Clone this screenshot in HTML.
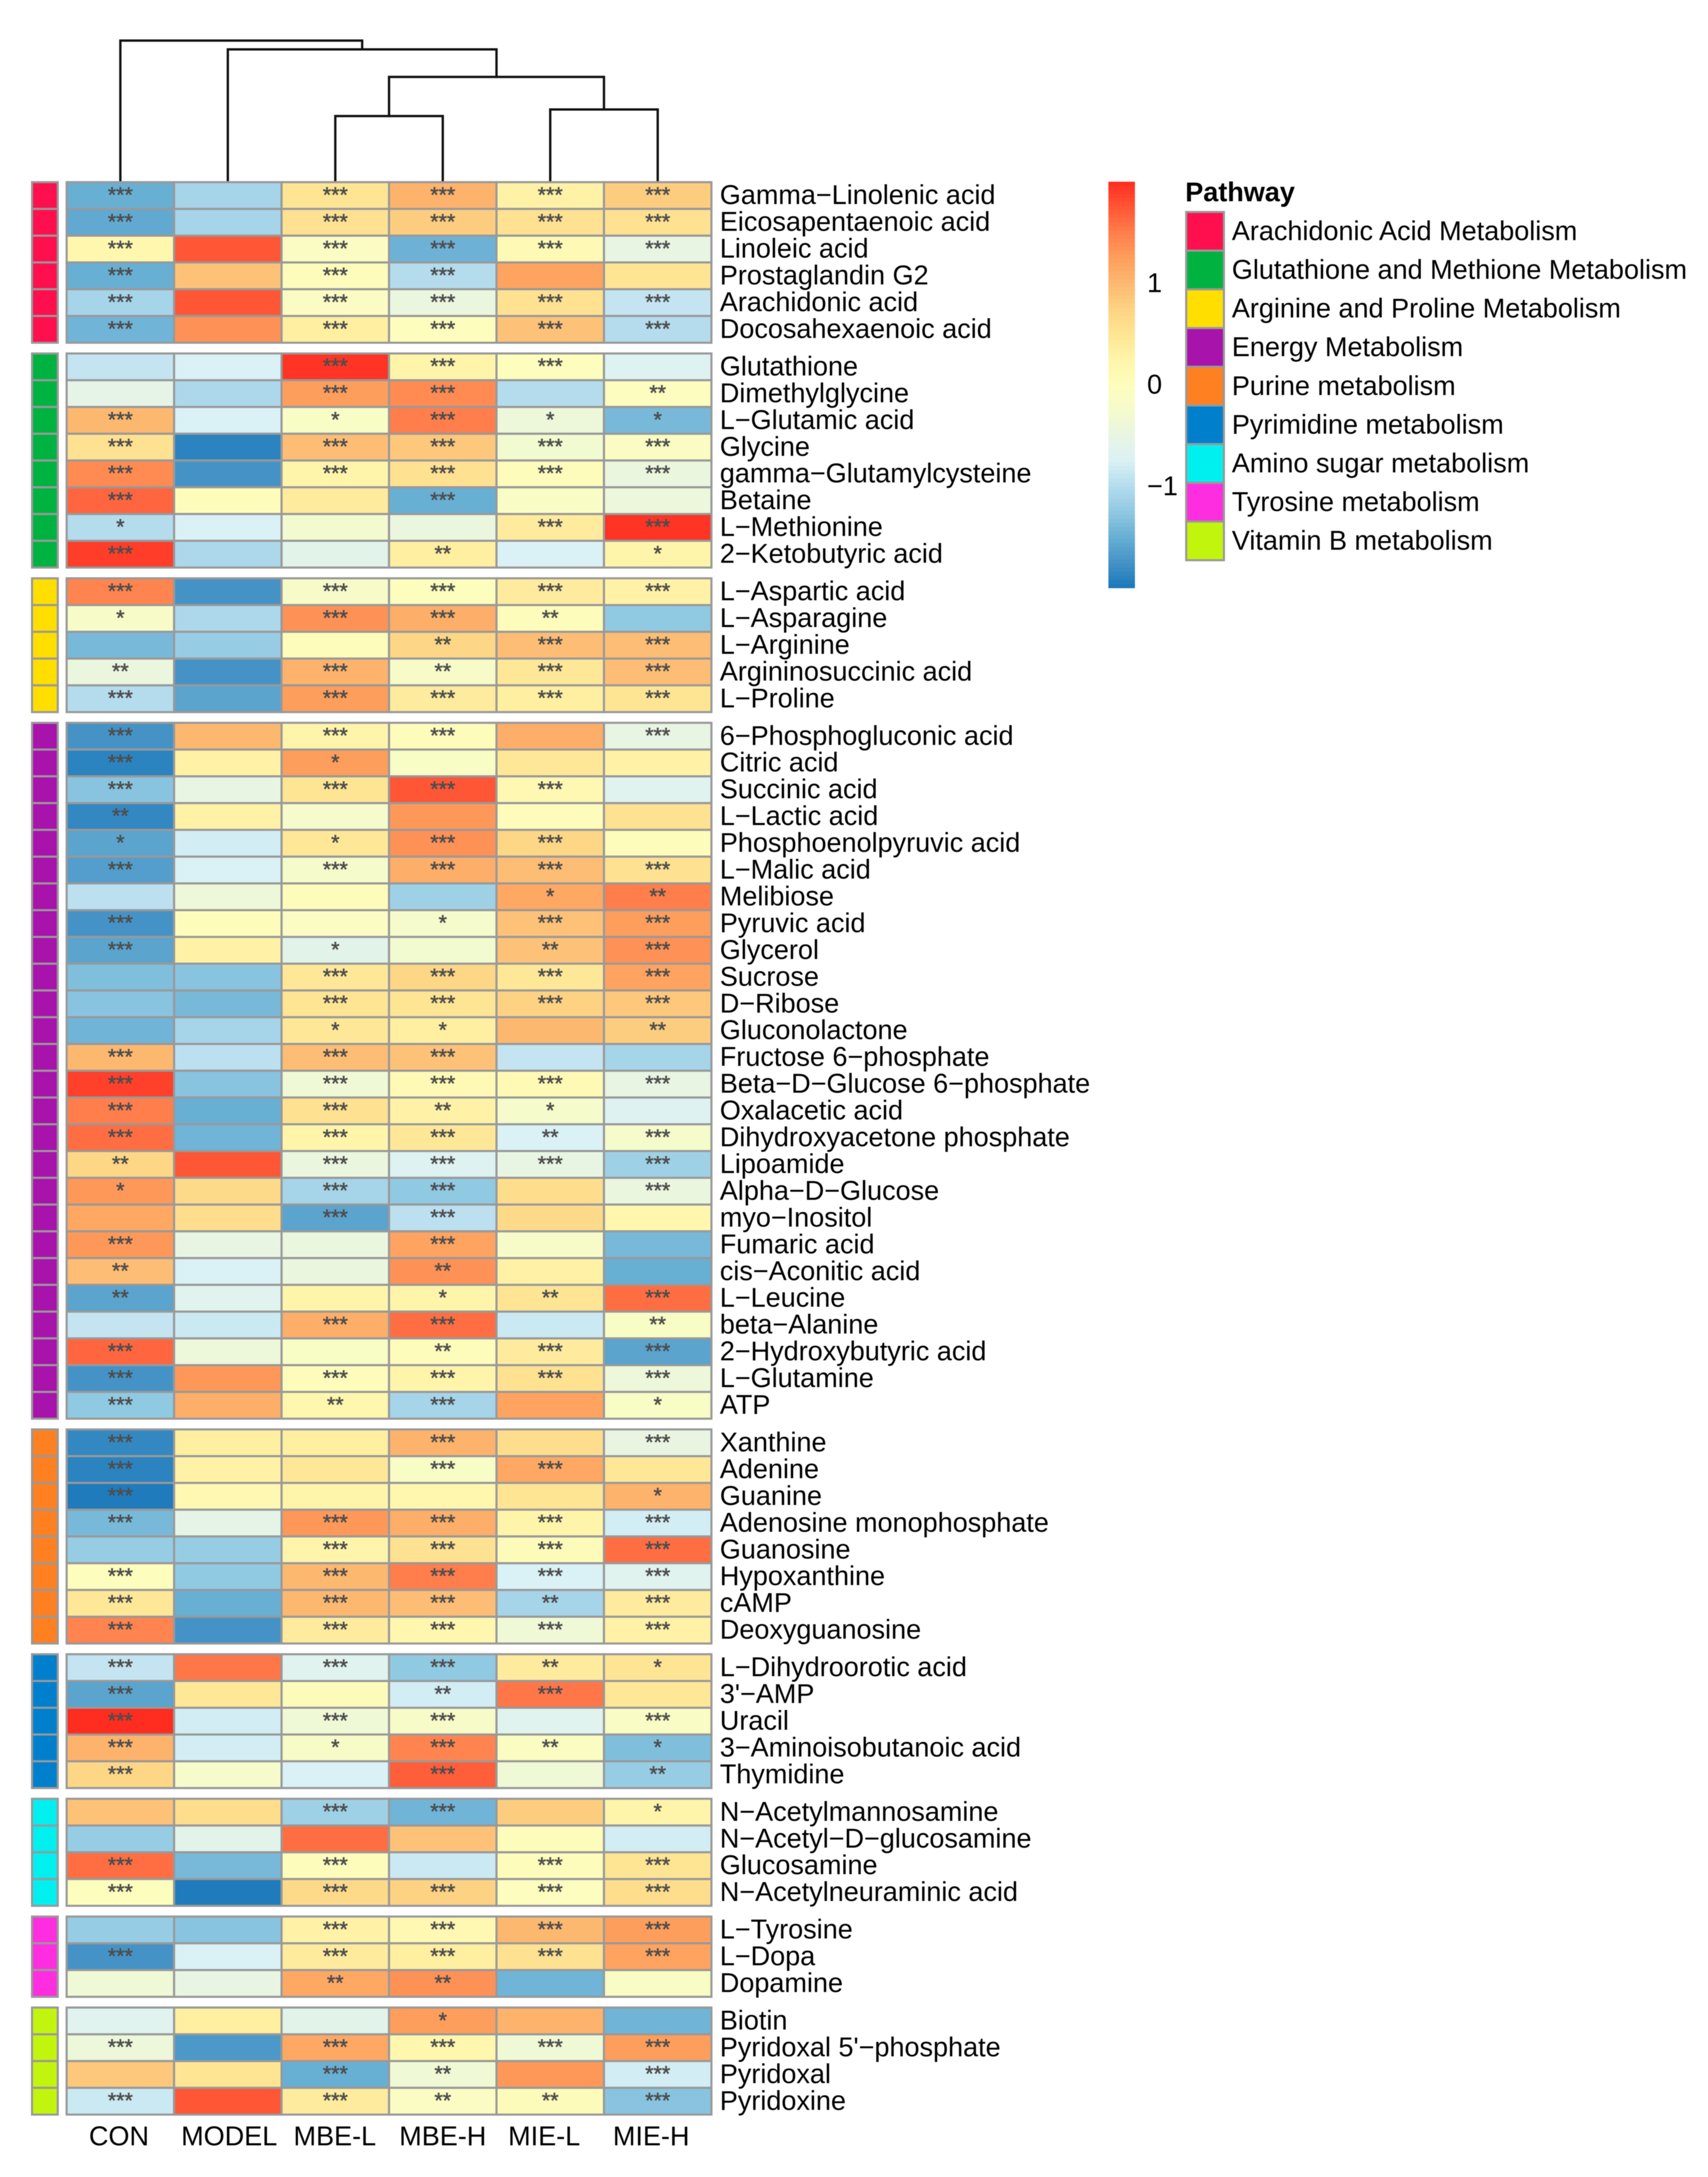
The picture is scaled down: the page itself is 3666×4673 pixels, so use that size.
<!DOCTYPE html>
<html>
<head>
<meta charset="utf-8">
<title>Metabolite pathway heatmap</title>
<style>
html,body{margin:0;padding:0;background:#fff;}
svg{display:block;filter:blur(0.8px);}
text{font-family:"Liberation Sans",sans-serif;fill:#000;}
</style>
</head>
<body>
<svg id="chart" xmlns="http://www.w3.org/2000/svg" width="3666" height="4673" viewBox="0 0 3666 4673"></svg>
<script>
const samples = ["CON","MODEL","MBE-L","MBE-H","MIE-L","MIE-H"];
const pathways = ["Arachidonic Acid Metabolism","Glutathione and Methione Metabolism","Arginine and Proline Metabolism","Energy Metabolism","Purine metabolism","Pyrimidine metabolism","Amino sugar metabolism","Tyrosine metabolism","Vitamin B metabolism"];
const pathwayColors = ["#ff0f4d","#00b341","#ffde00","#a813ab","#ff8020","#0080cc","#00f0f0","#ff2de0","#c2f50d"];
const pathwaySizes = [6,8,5,26,8,5,4,3,4];
const legendTicks = [1,0,-1];
const legendTitle = "Pathway";
const dendroMerges = [[-3,-4],[-5,-6],[1,2],[-2,3],[-1,4]];
const dendroHeights = [4.73,5.2,7.53,9.5,10.13];
const metabolites = [
"Gamma−Linolenic acid","Eicosapentaenoic acid","Linoleic acid","Prostaglandin G2","Arachidonic acid","Docosahexaenoic acid",
"Glutathione","Dimethylglycine","L−Glutamic acid","Glycine","gamma−Glutamylcysteine","Betaine","L−Methionine","2−Ketobutyric acid",
"L−Aspartic acid","L−Asparagine","L−Arginine","Argininosuccinic acid","L−Proline",
"6−Phosphogluconic acid","Citric acid","Succinic acid","L−Lactic acid","Phosphoenolpyruvic acid","L−Malic acid","Melibiose","Pyruvic acid","Glycerol","Sucrose","D−Ribose","Gluconolactone","Fructose 6−phosphate","Beta−D−Glucose 6−phosphate","Oxalacetic acid","Dihydroxyacetone phosphate","Lipoamide","Alpha−D−Glucose","myo−Inositol","Fumaric acid","cis−Aconitic acid","L−Leucine","beta−Alanine","2−Hydroxybutyric acid","L−Glutamine","ATP",
"Xanthine","Adenine","Guanine","Adenosine monophosphate","Guanosine","Hypoxanthine","cAMP","Deoxyguanosine",
"L−Dihydroorotic acid","3'−AMP","Uracil","3−Aminoisobutanoic acid","Thymidine",
"N−Acetylmannosamine","N−Acetyl−D−glucosamine","Glucosamine","N−Acetylneuraminic acid",
"L−Tyrosine","L−Dopa","Dopamine",
"Biotin","Pyridoxal 5'−phosphate","Pyridoxal","Pyridoxine"];
const zValues = [
[-1.5,-1.1,0.5,1.05,0.3,0.8],
[-1.55,-1.1,0.55,0.8,0.55,0.55],
[0.2,1.75,-0.1,-1.47,0.1,-0.5],
[-1.5,0.9,0.03,-1.0,1.2,0.5],
[-1.1,1.75,-0.1,-0.45,0.55,-0.9],
[-1.45,1.35,0.35,0.0,0.9,-1.0],
[-0.9,-0.75,1.95,0.25,0.0,-0.7],
[-0.55,-1.05,1.25,1.4,-1.0,-0.02],
[1.0,-0.75,-0.15,1.5,-0.4,-1.4],
[0.55,-1.9,0.95,0.85,-0.3,-0.1],
[1.4,-1.75,0.25,0.55,0.02,-0.45],
[1.65,0.03,0.4,-1.5,-0.12,-0.42],
[-1.0,-0.75,-0.3,-0.45,0.4,1.95],
[1.9,-1.05,-0.6,0.35,-0.75,0.25],
[1.45,-1.75,-0.2,0.0,0.4,0.3],
[-0.2,-1.05,1.35,1.1,0.03,-1.25],
[-1.4,-1.2,0.02,0.7,0.95,0.95],
[-0.45,-1.75,1.05,-0.2,0.45,0.95],
[-1.0,-1.6,1.25,0.4,0.35,0.5],
[-1.75,1.0,0.25,0.03,1.1,-0.5],
[-1.9,0.3,1.25,-0.15,0.45,0.3],
[-1.3,-0.5,0.5,1.75,0.15,-0.65],
[-1.85,0.3,-0.25,1.3,0.03,0.55],
[-1.6,-0.8,0.45,1.35,0.7,0.03],
[-1.65,-0.75,-0.25,1.1,0.95,0.55],
[-0.95,-0.4,0.03,-1.15,1.15,1.5],
[-1.75,0.03,-0.1,-0.25,0.9,1.25],
[-1.6,0.3,-0.6,-0.3,0.9,1.35],
[-1.35,-1.3,0.45,0.7,0.45,1.2],
[-1.3,-1.4,0.5,0.5,0.75,0.85],
[-1.45,-1.1,0.45,0.35,1.0,0.8],
[1.0,-0.95,0.95,0.9,-0.9,-1.1],
[1.88,-1.3,-0.35,0.1,0.1,-0.5],
[1.5,-1.5,0.55,0.3,-0.25,-0.7],
[1.6,-1.45,0.25,0.45,-0.75,-0.25],
[0.7,1.75,-0.45,-0.7,-0.5,-1.15],
[1.3,0.65,-1.1,-1.25,0.6,-0.45],
[1.15,0.6,-1.6,-0.95,0.65,0.2],
[1.3,-0.5,-0.45,1.2,-0.2,-1.4],
[0.95,-0.75,-0.45,1.35,0.3,-1.5],
[-1.6,-0.65,0.25,0.25,0.5,1.6],
[-0.9,-0.85,1.1,1.6,-0.85,-0.15],
[1.65,-0.4,-0.15,0.03,0.4,-1.6],
[-1.75,1.3,0.03,0.25,0.55,-0.4],
[-1.25,1.1,0.2,-1.1,1.2,-0.15],
[-1.85,0.35,0.35,1.05,0.6,-0.48],
[-1.9,0.3,0.45,-0.15,1.15,0.45],
[-1.97,0.15,0.25,0.2,0.5,1.05],
[-1.4,-0.55,1.3,1.1,0.25,-0.8],
[-1.2,-1.2,0.25,0.55,0.05,1.6],
[0.0,-1.25,1.0,1.5,-0.75,-0.65],
[0.45,-1.5,1.0,0.95,-1.1,0.4],
[1.45,-1.75,0.4,0.2,-0.35,0.3],
[-0.9,1.55,-0.65,-1.25,0.4,0.5],
[-1.6,0.45,0.05,-0.8,1.55,0.45],
[2.0,-0.8,-0.35,-0.2,-0.65,-0.12],
[1.05,-0.8,-0.2,1.45,-0.08,-1.35],
[0.7,-0.25,-0.75,1.7,-0.35,-1.2],
[0.9,0.6,-1.15,-1.45,0.8,0.25],
[-1.2,-0.6,1.6,0.9,0.03,-0.8],
[1.6,-1.4,0.03,-0.85,0.03,0.5],
[0.0,-1.97,0.65,0.75,-0.02,0.6],
[-1.2,-1.3,0.3,0.15,1.0,1.25],
[-1.75,-0.75,0.4,0.35,0.55,1.2],
[-0.35,-0.5,1.15,1.35,-1.45,-0.15],
[-0.65,0.35,-0.6,1.25,1.05,-1.45],
[-0.4,-1.7,1.15,0.2,-0.35,1.25],
[0.85,0.5,-1.5,-0.35,1.3,-0.8],
[-0.85,1.75,0.4,-0.1,0.05,-1.3]];
const starCounts = [
[3,0,3,3,3,3],[3,0,3,3,3,3],[3,0,3,3,3,3],[3,0,3,3,0,0],[3,0,3,3,3,3],[3,0,3,3,3,3],
[0,0,3,3,3,0],[0,0,3,3,0,2],[3,0,1,3,1,1],[3,0,3,3,3,3],[3,0,3,3,3,3],[3,0,0,3,0,0],[1,0,0,0,3,3],[3,0,0,2,0,1],
[3,0,3,3,3,3],[1,0,3,3,2,0],[0,0,0,2,3,3],[2,0,3,2,3,3],[3,0,3,3,3,3],
[3,0,3,3,0,3],[3,0,1,0,0,0],[3,0,3,3,3,0],[2,0,0,0,0,0],[1,0,1,3,3,0],[3,0,3,3,3,3],[0,0,0,0,1,2],[3,0,0,1,3,3],[3,0,1,0,2,3],[0,0,3,3,3,3],[0,0,3,3,3,3],[0,0,1,1,0,2],[3,0,3,3,0,0],[3,0,3,3,3,3],[3,0,3,2,1,0],[3,0,3,3,2,3],[2,0,3,3,3,3],[1,0,3,3,0,3],[0,0,3,3,0,0],[3,0,0,3,0,0],[2,0,0,2,0,0],[2,0,0,1,2,3],[0,0,3,3,0,2],[3,0,0,2,3,3],[3,0,3,3,3,3],[3,0,2,3,0,1],
[3,0,0,3,0,3],[3,0,0,3,3,0],[3,0,0,0,0,1],[3,0,3,3,3,3],[0,0,3,3,3,3],[3,0,3,3,3,3],[3,0,3,3,2,3],[3,0,3,3,3,3],
[3,0,3,3,2,1],[3,0,0,2,3,0],[3,0,3,3,0,3],[3,0,1,3,2,1],[3,0,0,3,0,2],
[0,0,3,3,0,1],[0,0,0,0,0,0],[3,0,3,0,3,3],[3,0,3,3,3,3],
[0,0,3,3,3,3],[3,0,3,3,3,3],[0,0,2,2,0,0],
[0,0,0,1,0,0],[3,0,3,3,3,3],[0,0,3,2,0,3],[3,0,3,2,2,3]];

const NS = "http://www.w3.org/2000/svg";
const svg = document.getElementById("chart");
const FS = 58, GRID = "#999999";
const X0 = 143, COLW = 230.67, Y0 = 391, ROWH = 57.45, GAP = 23;

function xCol(i){ return X0 + i * COLW; }
function xMid(i){ return xCol(i) + COLW / 2; }
function groupOfRow(r){ let g = 0, n = pathwaySizes[0]; while (r >= n){ g++; n += pathwaySizes[g]; } return g; }
function yRow(r){ return Y0 + r * ROWH + groupOfRow(r) * GAP; }
function yDendro(h){ return Y0 - h * 30; }
function yLegend(z){ return 826 - z * 218; }

const colorStops = [[-2,"#1a78ba"],[-1.75,"#4593c6"],[-1.5,"#68afd4"],[-1.25,"#90c9e2"],[-1,"#b4dced"],[-0.75,"#daf1f5"],[-0.5,"#e8f5e3"],[-0.25,"#f5fbcb"],[0,"#fdfdbd"],[0.25,"#fff5aa"],[0.5,"#fee594"],[0.75,"#fdd283"],[1,"#fdb870"],[1.25,"#fe9e5c"],[1.5,"#ff7e4c"],[1.75,"#ff5636"],[2,"#ff2c20"]];
function hexRgb(h){ return [parseInt(h.slice(1,3),16),parseInt(h.slice(3,5),16),parseInt(h.slice(5,7),16)]; }
function colorFor(z){
  const v = Math.max(-2, Math.min(2, z));
  for (let i = 1; i < colorStops.length; i++){
    if (v <= colorStops[i][0]){
      const t = (v - colorStops[i-1][0]) / (colorStops[i][0] - colorStops[i-1][0]);
      const a = hexRgb(colorStops[i-1][1]), b = hexRgb(colorStops[i][1]);
      return "rgb(" + a.map((c,k) => Math.round(c + (b[k]-c)*t)).join(",") + ")";
    }
  }
  return colorStops[colorStops.length-1][1];
}
function make(parent, tag, attrs, txt){
  const el = document.createElementNS(NS, tag);
  for (const k in attrs) el.setAttribute(k, attrs[k]);
  if (txt !== undefined) el.textContent = txt;
  parent.appendChild(el);
  return el;
}

/* dendrogram */
const dendro = make(svg, "g", {fill:"none", stroke:"#111", "stroke-width":5, "stroke-linejoin":"miter", "stroke-linecap":"square"});


const clusterX = [], clusterH = [];
function nodeX(n){ return n < 0 ? xMid(-n - 1) : clusterX[n - 1]; }
function nodeH(n){ return n < 0 ? 0 : clusterH[n - 1]; }
dendroMerges.forEach((m, i) => {
  const h = dendroHeights[i];
  const xa = nodeX(m[0]), xb = nodeX(m[1]);
  const d = "M" + xa + " " + yDendro(nodeH(m[0])) + "V" + yDendro(h) + "H" + xb + "V" + yDendro(nodeH(m[1]));
  const link = make(dendro, "path", {d: d});
  
  
  clusterX[i] = (xa + xb) / 2;
  clusterH[i] = h;
});

/* annotation column, heatmap cells, significance stars, row labels */
const annot = make(svg, "g", {stroke: GRID, "stroke-width": 4.5});


const cells = make(svg, "g", {stroke: GRID, "stroke-width": 4.5});


const starsG = make(svg, "g", {"text-anchor":"middle", "font-size":46});


const rowLabels = make(svg, "g", {"font-size":FS});



metabolites.forEach((name, r) => {
  const y = yRow(r);
  const a = make(annot, "rect", {x:68.7, y:y, width:55.3, height:ROWH, fill:pathwayColors[groupOfRow(r)]});
  
  
  zValues[r].forEach((z, c) => {
    const rect = make(cells, "rect", {x:xCol(c), y:y, width:COLW, height:ROWH, fill:colorFor(z)});
    
    
    if (starCounts[r][c] > 0){
      const s = make(starsG, "text", {x:xMid(c), y:y + 43, style:"fill:#4d4d4d;stroke:#4d4d4d;stroke-width:1"}, "*".repeat(starCounts[r][c]));
      
      
    }
  });
  const lab = make(rowLabels, "text", {x:1545, y:y + ROWH / 2 + 18.5}, name);
  
  
});

/* column labels */
const colLabelNudge = [-3,3,-1,0,-13,-14];
samples.forEach((name, c) => {
  const t = make(svg, "text", {x:xMid(c) + colLabelNudge[c], y:4605, "text-anchor":"middle", "font-size":FS}, name);
  
  
});

/* colour bar */
const bar = make(svg, "g", {});


const BAR_STEPS = 100;
for (let i = 0; i < BAR_STEPS; i++){
  const zTop = 2 - 4 * i / BAR_STEPS, zBot = 2 - 4 * (i + 1) / BAR_STEPS;
  const seg = make(bar, "rect", {x:2379, y:yLegend(zTop), width:57, height:yLegend(zBot) - yLegend(zTop) + 0.6, fill:colorFor((zTop + zBot) / 2)});
  
  
}
legendTicks.forEach(v => {
  const t = make(svg, "text", {x:2462, y:yLegend(v) + 19, "font-size":FS}, v < 0 ? "−" + Math.abs(v) : String(v));
  
  
});

/* pathway legend */
const title = make(svg, "text", {x:2544, y:432, "font-size":FS, "font-weight":"bold"}, legendTitle);


const LEG_H = 83.06;
pathways.forEach((p, i) => {
  const y = 455 + i * LEG_H;
  const sw = make(svg, "rect", {x:2546, y:y, width:81, height:LEG_H, fill:pathwayColors[i], stroke:GRID, "stroke-width":4.5});
  
  
  const t = make(svg, "text", {x:2644, y:y + LEG_H / 2 + 19, "font-size":FS}, p);
  
  
});
</script>
</body>
</html>
